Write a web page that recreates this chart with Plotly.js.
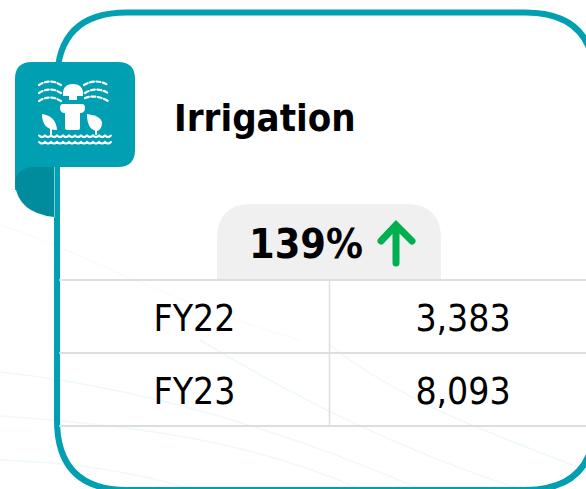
<!DOCTYPE html>
<html><head><meta charset="utf-8">
<script src="https://cdn.plot.ly/plotly-3.0.1.min.js"></script>
<style>html,body{margin:0;padding:0;background:#fff;overflow:hidden;width:586px;height:489px}
#c{width:600px;height:489px}
.shapelayer path{stroke-linecap:round}</style></head><body><div id="c"></div>
<script>
const chartTitle = 'Irrigation';
const categories = ['FY22', 'FY23'];
const valueLabels = ['3,383', '8,093'];
const changeLabel = '139%';

const TEAL = '#00A0B2', DARK = '#008C9C', GREEN = '#00B050', GRID = '#DEDEDE', PILL = '#F0F0F0';
const shapes = [];
function path(d, opt) {
  opt = opt || {};
  shapes.push({type:'path', xref:'x', yref:'y', path:d, layer:opt.layer||'below',
    fillcolor:opt.fill||'rgba(0,0,0,0)',
    line:{color:opt.color||'rgba(0,0,0,0)', width:opt.width||0, dash:opt.dash||'solid'}});
}
// faint background swooshes
const sw = '#EFF9F9';
path('M0,372 C120,385 260,420 420,489', {color:sw,width:1.5});
path('M0,416 C130,425 250,440 360,489', {color:sw,width:1.5});
path('M0,460 C60,462 130,470 190,489', {color:sw,width:1.5});
path('M200,340 C300,400 400,450 520,489', {color:sw,width:1.5});
path('M330,345 C400,400 480,430 586,470', {color:sw,width:1.5});
path('M0,225 C80,250 160,300 300,340', {color:'#F5FBFB',width:1});
// card
path('M127,12.5 L525,12.5 Q595,12.5 595,82 L595,420 Q595,490 525,490 L127,490 Q57,490 57,420 L57,82 Q57,12.5 127,12.5 Z', {color:TEAL,width:6});
// ribbon fold
path('M15,167 L40,167 L40,190 L15,190 Z', {fill:TEAL});
path('M54,167 L36,167 Q15,167 15,184 Q18,213 54,217 Z', {fill:DARK});
path('M54.5,167 L54.5,217', {color:'#7CCBD4',width:1});
// tab
path('M32,62 L118,62 Q135,62 135,79 L135,150 Q135,167 118,167 L15,167 L15,79 Q15,62 32,62 Z', {fill:TEAL,layer:'above'});
// icon : sprinkler head and body
const W = '#FFFFFF';
path('M63,96 Q62,84 73,84 Q84,84 83,96 L77,96 L77,100 L69,100 L69,96 Z', {fill:W,layer:'above'});
path('M63,104 L82,104 Q85,104 85,108 Q85,113 80,113 L80,128 Q80,130 78,130 L67,130 Q65,130 65,128 L65,113 Q60,113 60,108 Q60,104 63,104 Z', {fill:W,layer:'above'});
// plants
path('M42,114 Q56,116 57,130 Q42,130 42,114 Z', {fill:W,layer:'above'});
path('M51,126 L51,134', {color:W,width:2,layer:'above'});
path('M102,122 Q101,116 87,114 Q87,130 97,131 Q102,130 102,122 Z', {fill:W,layer:'above'});
path('M96,128 L96,134', {color:W,width:2,layer:'above'});
// water
[135.5, 142].forEach(y => {
  let d = 'M39,' + y;
  for (let x = 39; x < 106; x += 6) d += ' Q' + (x+3) + ',' + (y+3) + ' ' + (x+6) + ',' + y;
  path(d, {color:W,width:2,layer:'above'});
});
// spray
['M39,85 Q50,78 61,85','M39,93 Q50,86 61,93','M39,101 Q50,94 61,101',
 'M84,85 Q96,78 108,85','M85,93 Q96,86 108,93','M85,98 Q96,94 108,101'].forEach(d =>
  path(d, {color:W,width:2.2,dash:'4px,2.5px',layer:'above'}));
// pill
path('M217,281 L217,239 Q217,204 252,204 L406,204 Q441,204 441,239 L441,281 Z', {fill:PILL});
// arrow
path('M396,263 L396,225 M381,241 L396,225 L412,241', {color:GREEN,width:7,layer:'above'});
// table grid
[280, 353, 426].forEach(y => path('M60,' + y + ' L600,' + y, {color:GRID,width:2}));
path('M329.5,280 L329.5,426', {color:GRID,width:1.5});

const tableTrace = {
  type:'table',
  domain:{x:[60/600,597/600], y:[1-427/489, 1-279/489]},
  columnwidth:[269,268],
  header:{values:[], height:0, line:{width:0}, fill:{color:'rgba(0,0,0,0)'}},
  cells:{values:[categories, valueLabels], height:73, align:'center',
    line:{color:'rgba(0,0,0,0)',width:0}, fill:{color:'rgba(0,0,0,0)'},
    font:{family:'"DejaVu Sans Condensed","DejaVu Sans",sans-serif',size:37,color:'#000'}}
};
const anchor = {type:'scatter',x:[],y:[],mode:'markers',hoverinfo:'skip',showlegend:false};
const layout = {
  width:600,height:489,margin:{l:0,r:0,t:0,b:0},autosize:false,
  paper_bgcolor:'rgba(0,0,0,0)',plot_bgcolor:'rgba(0,0,0,0)',showlegend:false,
  xaxis:{range:[0,600],visible:false,fixedrange:true},
  yaxis:{range:[489,0],visible:false,fixedrange:true},
  shapes:shapes,
  annotations:[
    {xref:'x',yref:'y',x:172,y:118,xanchor:'left',yanchor:'middle',showarrow:false,text:'<b>'+chartTitle+'</b>',
     font:{family:'"DejaVu Sans Condensed","DejaVu Sans",sans-serif',size:38,color:'#000'}},
    {xref:'x',yref:'y',x:306,y:244,xanchor:'center',yanchor:'middle',showarrow:false,text:'<b>'+changeLabel+'</b>',
     font:{family:'"DejaVu Sans Condensed","DejaVu Sans",sans-serif',size:41,color:'#000'}}
  ]
};
Plotly.newPlot('c',[anchor,tableTrace],layout,{displayModeBar:false,staticPlot:true});
</script></body></html>
